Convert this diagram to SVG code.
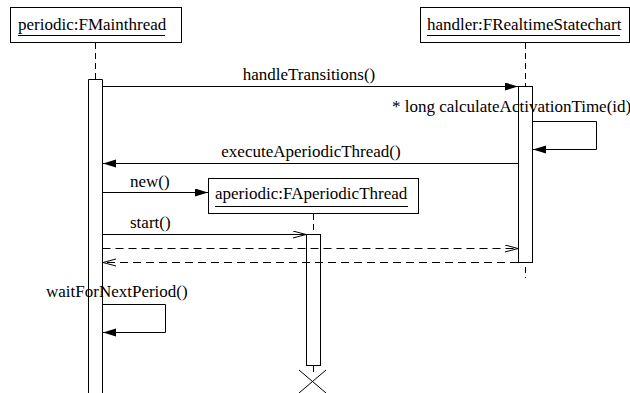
<svg xmlns="http://www.w3.org/2000/svg" width="630" height="393" viewBox="0 0 630 393">
<defs>
<style>
.t{font-family:'Liberation Serif','Times New Roman',serif;font-size:17px;fill:#000}
.box{fill:#fff;stroke:#000;stroke-width:1}
.act{fill:#fff;stroke:#000;stroke-width:1}
.ul{stroke:#000;stroke-width:1}
.life{stroke:#000;stroke-width:1;stroke-dasharray:6,4;fill:none}
.msg{stroke:#000;stroke-width:1;fill:none}
.dash{stroke:#000;stroke-width:1;stroke-dasharray:8,5;fill:none}
</style>
<marker id="fill" markerWidth="14" markerHeight="10" refX="13" refY="4" orient="auto" markerUnits="userSpaceOnUse">
<path d="M0,0 L13,4 L0,8 Z" fill="#000"/>
</marker>
<marker id="open" markerWidth="14" markerHeight="10" refX="13" refY="4" orient="auto" markerUnits="userSpaceOnUse">
<path d="M0,0.5 L13,4 L0,7.5" fill="none" stroke="#000" stroke-width="1"/>
</marker>
</defs>
<rect width="630" height="393" fill="#fff"/>

<g id="periodic">
<rect class="box" x="10.5" y="7.5" width="171" height="35"/>
<text class="t" x="18" y="30">periodic:FMainthread</text>
<line class="ul" x1="18" y1="35.5" x2="165" y2="35.5"/>
<line class="life" x1="95.5" y1="43" x2="95.5" y2="79"/>
<path class="act" d="M88.5,393 V79.5 H102.5 V393"/>
</g>

<g id="handler">
<rect class="box" x="420.5" y="7.5" width="209" height="35"/>
<text class="t" x="427" y="30">handler:FRealtimeStatechart</text>
<line class="ul" x1="427" y1="35.5" x2="620" y2="35.5"/>
<line class="life" x1="525.5" y1="43" x2="525.5" y2="86"/>
<rect class="act" x="518.5" y="86.5" width="14" height="176"/>
<line class="life" x1="525.5" y1="267" x2="525.5" y2="278"/>
</g>

<g id="aperiodic">
<rect class="box" x="208.5" y="178.5" width="210" height="35"/>
<text class="t" x="215" y="199">aperiodic:FAperiodicThread</text>
<line class="ul" x1="215" y1="206.5" x2="408" y2="206.5"/>
<line class="life" x1="313.5" y1="214" x2="313.5" y2="234"/>
<rect class="act" x="306.5" y="234.5" width="14" height="131"/>
<line class="msg" x1="313.5" y1="366" x2="313.5" y2="372"/>
<path class="msg" d="M299,370 L326,393 M326,370 L299,393"/>
</g>

<g id="connectors">
<line class="msg" x1="102.5" y1="86.5" x2="518" y2="86.5" marker-end="url(#fill)"/>
<text class="t" x="309" y="80" text-anchor="middle">handleTransitions()</text>

<text class="t" x="392" y="112">* long calculateActivationTime(id)</text>
<polyline class="msg" points="532.5,121.5 596.5,121.5 596.5,149.5 533,149.5" marker-end="url(#fill)"/>

<line class="msg" x1="518" y1="163.5" x2="103" y2="163.5" marker-end="url(#fill)"/>
<text class="t" x="311" y="157" text-anchor="middle">executeAperiodicThread()</text>

<line class="msg" x1="102.5" y1="192.5" x2="208" y2="192.5" marker-end="url(#fill)"/>
<text class="t" x="130" y="187">new()</text>

<line class="msg" x1="102.5" y1="234.5" x2="306" y2="234.5" marker-end="url(#open)"/>
<text class="t" x="130" y="228">start()</text>

<line class="dash" x1="102.5" y1="248.5" x2="518" y2="248.5" marker-end="url(#open)"/>
<line class="dash" x1="518" y1="262.5" x2="103" y2="262.5" marker-end="url(#open)"/>

<text class="t" x="46" y="297">waitForNextPeriod()</text>
<polyline class="msg" points="102.5,304.5 165.5,304.5 165.5,332.5 103,332.5" marker-end="url(#fill)"/>
</g>
</svg>
